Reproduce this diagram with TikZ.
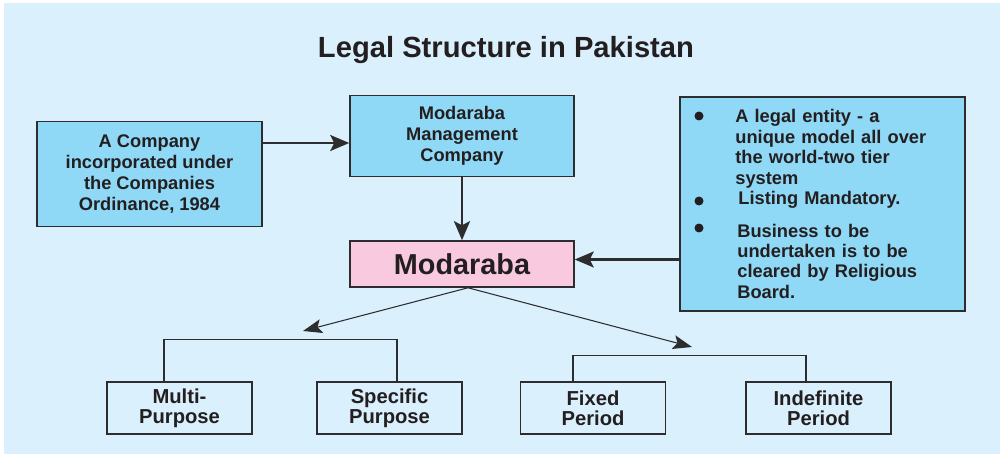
\documentclass[tikz,border=0pt]{standalone}
\usepackage{fontspec}
\setmainfont{Liberation Sans}
\definecolor{BackColor}{RGB}{218,240,252}
\definecolor{BoxColor}{RGB}{143,216,246}
\definecolor{MainColor}{RGB}{249,202,223}
\definecolor{LineColor}{RGB}{45,45,48}
\definecolor{TextColor}{RGB}{35,31,32}
\usetikzlibrary{positioning, arrows.meta, calc}
\tikzstyle{bluebox} = [rectangle, draw=LineColor, line width=0.9pt, fill=BoxColor, text=TextColor, align=center, font=\fontsize{10.4}{11.8}\selectfont\bfseries]
\tikzstyle{typebox} = [rectangle, draw=LineColor, line width=0.8pt, text=TextColor, align=center, minimum width=2.9cm, minimum height=1.04cm, font=\fontsize{11.5}{11.4}\selectfont\bfseries]
\tikzstyle{arrow} = [line width=1.4pt, LineColor, -{Stealth[length=0.38cm, width=0.32cm, inset=0.08cm]}]
\tikzstyle{thinarrow} = [line width=0.6pt, LineColor, -{Stealth[length=0.38cm, width=0.28cm, inset=0.08cm]}]
\tikzstyle{bracket} = [line width=0.7pt, LineColor]
\tikzstyle{bullet} = [circle, fill=TextColor, inner sep=0pt, minimum size=0.18cm]
\tikzstyle{itemtext} = [anchor=base west, inner sep=0pt, text width=4.3cm, align=left, text=TextColor, font=\fontsize{10.4}{11.6}\selectfont\bfseries]

\begin{document}
\begin{tikzpicture}[x=0.02cm, y=-0.02cm]
            % Background
            \useasboundingbox (0,0) rectangle (1002,456);
            \fill[BackColor] (4,3) rectangle (1000,454);

            % Title
            \node[text=TextColor, font=\fontsize{16.6}{20}\selectfont\bfseries] (title) at (506,50) {Legal Structure in Pakistan};

            % Top row
            \node[bluebox, minimum width=4.5cm, minimum height=2.1cm] (company) at (149.5,174) {A Company\\incorporated under\\the Companies\\Ordinance, 1984};
            \node[bluebox, minimum width=4.48cm, minimum height=1.62cm] (mmc) at (462,136) {Modaraba\\Management\\Company};
            \node[rectangle, draw=LineColor, line width=0.9pt, fill=MainColor, text=TextColor, minimum width=4.48cm, minimum height=0.92cm, font=\fontsize{16.4}{20}\selectfont\bfseries] (modaraba) at (462,264) {Modaraba};
            \draw[arrow] ([yshift=-0.14cm]mmc.west -| company.east) -- ([yshift=-0.14cm]mmc.west);
            \draw[arrow] (mmc.south) -- (modaraba.north);

            % Features
            \node[bluebox, minimum width=5.7cm, minimum height=4.28cm] (features) at (822.5,204) {};
            \node[bullet] (b1) at (699,116) {};
            \node[bullet] (b2) at (699,201) {};
            \node[bullet] (b3) at (699,228) {};
            \node[itemtext] (p1) at (735,123) {A legal entity - a\\unique model all over\\the world-two tier\\system};
            \node[itemtext] (p2) at (738,205) {Listing Mandatory.};
            \node[itemtext] (p3) at (737,237) {Business to be\\undertaken is to be\\cleared by Religious\\Board.};
            \draw[arrow] ([yshift=0.09cm]modaraba.east -| features.west) -- ([yshift=0.09cm]modaraba.east);

            % Types
            \coordinate (lt) at (303,331);
            \coordinate (rt) at (692,347);
            \draw[thinarrow] ([xshift=0.12cm]modaraba.south) -- (lt);
            \draw[thinarrow] ([xshift=0.12cm]modaraba.south) -- (rt);
            \node[typebox] (multi) at (179.5,408) {Multi-\\Purpose};
            \node[typebox] (specific) at (389.5,408) {Specific\\Purpose};
            \node[typebox] (fixed) at (593,408) {Fixed\\Period};
            \node[typebox] (indef) at (818.5,408) {Indefinite\\Period};
            \draw[bracket] ([xshift=-0.31cm]multi.north) -- ++(0,0.84cm) -| ([xshift=0.15cm]specific.north);
            \draw[bracket] ([xshift=-0.4cm]fixed.north) -- ++(0,0.52cm) -| ([xshift=-0.25cm]indef.north);
        \end{tikzpicture}
\end{document}
